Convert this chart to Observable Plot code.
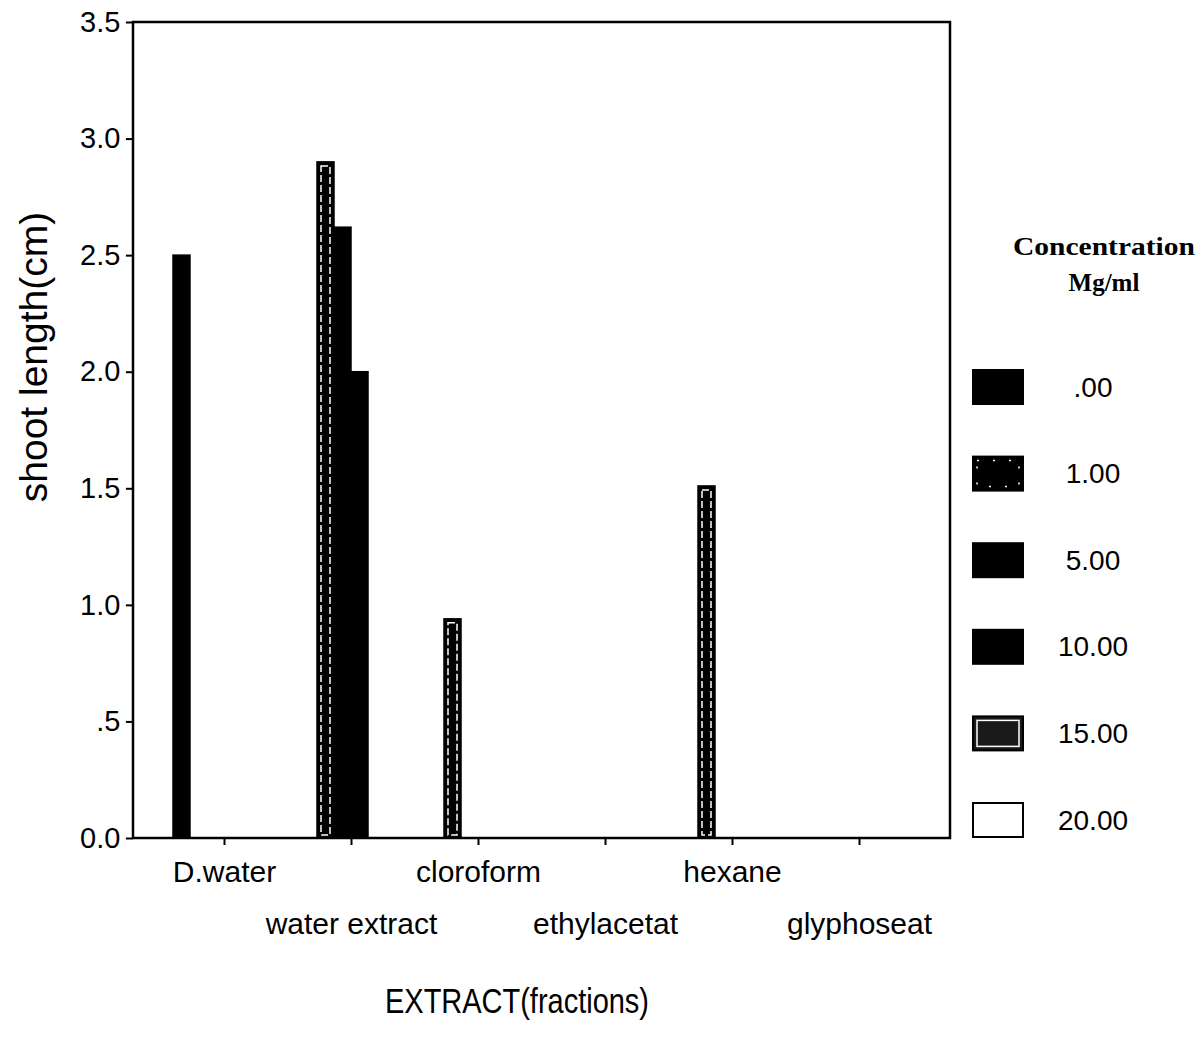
<!DOCTYPE html>
<html>
<head>
<meta charset="utf-8">
<script src="https://cdn.jsdelivr.net/npm/d3@7"></script>
<script src="https://cdn.jsdelivr.net/npm/@observablehq/plot@0.6"></script>
<style>
  html, body { margin: 0; padding: 0; background: white; }
  #chart { width: 1200px; height: 1043px; }
</style>
</head>
<body>
<div id="chart"></div>
<script>
// ---- data ----
const extracts = ["D.water", "water extract", "cloroform", "ethylacetat", "hexane", "glyphoseat"];
const concentrations = [".00", "1.00", "5.00", "10.00", "15.00", "20.00"];
const barExtract = ["D.water", "water extract", "water extract", "water extract", "cloroform", "hexane"];
const barConc    = [".00",     "1.00",          "5.00",          "10.00",         "1.00",      "1.00"];
const barValue   = [2.50,      2.90,            2.62,            2.00,            0.94,        1.51];
const yTicks = [0, 0.5, 1, 1.5, 2, 2.5, 3, 3.5];
const fillRange = ["black", "black", "black", "black", "#1a1a1a", "white"];

const rows = barValue.map((v, i) => ({extract: barExtract[i], conc: barConc[i], value: v}));

// ---- layout ----
const W = 1200, H = 1043;
const mL = 133, mR = 250, mT = 22, mB = 205;
const fxPadInner = 0.167, fxPadOuter = 0.3;
const fxBand = d3.scaleBand().domain(extracts).range([mL, W - mR])
  .paddingInner(fxPadInner).paddingOuter(fxPadOuter);
const yAxisShift = mL - fxBand(extracts[0]);

const font = "'Liberation Sans', Arial, Helvetica, sans-serif";
const fmt = d => d.toFixed(1).replace(/^0\.(?!0)/, ".");
const fxFmt = d => (extracts.indexOf(d) % 2 === 1 ? "\n" + d : d);

const plot = Plot.plot({
  width: W, height: H,
  marginLeft: mL, marginRight: mR, marginTop: mT, marginBottom: mB,
  style: {fontFamily: font, color: "black", background: "white", overflow: "visible"},
  fx: {domain: extracts, paddingInner: fxPadInner, paddingOuter: fxPadOuter, axis: null, label: null},
  x: {domain: concentrations, padding: 0, axis: null},
  y: {domain: [0, 3.5], axis: null},
  color: {domain: concentrations, range: fillRange},
  marks: [
    Plot.barY(rows, {fx: "extract", x: "conc", y: "value", fill: "conc", stroke: "black", strokeWidth: 1.5}),
    Plot.barY(rows.filter(d => d.conc === "1.00"), {
      fx: "extract", x: "conc", y: "value", fill: "none", stroke: "white",
      strokeWidth: 1.5, strokeDasharray: "7,3", insetLeft: 4, insetRight: 4, insetTop: 4, insetBottom: 3
    }),
    Plot.axisY(yTicks, {anchor: "left", facetAnchor: "left", tickSize: 7, tickPadding: 6, tickFormat: fmt,
      fontSize: 29, label: null, strokeWidth: 2, dx: yAxisShift}),
    Plot.axisFx({anchor: "bottom", tickSize: 7, tickPadding: 0, tickFormat: fxFmt,
      lineHeight: 1.72, fontSize: 30, label: null, strokeWidth: 2})
  ]
});

document.getElementById("chart").appendChild(plot);

// ---- frame, titles and legend ----
const svg = d3.select(plot);
svg.append("rect")
  .attr("x", mL).attr("y", mT)
  .attr("width", W - mL - mR).attr("height", H - mT - mB)
  .attr("fill", "none").attr("stroke", "black").attr("stroke-width", 2.5);

svg.append("text")
  .attr("transform", "translate(33,357) rotate(-90)")
  .attr("text-anchor", "middle").attr("dominant-baseline", "central")
  .attr("font-family", font).attr("font-size", 39).attr("fill", "black")
  .text("shoot length(cm)");

svg.append("text")
  .attr("x", 517).attr("y", 1000)
  .attr("text-anchor", "middle").attr("dominant-baseline", "central")
  .attr("font-family", font).attr("font-size", 35).attr("fill", "black")
  .attr("textLength", 264).attr("lengthAdjust", "spacingAndGlyphs")
  .text("EXTRACT(fractions)");

const serif = "'Liberation Serif', 'Times New Roman', serif";
svg.append("text")
  .attr("x", 1104).attr("y", 246)
  .attr("text-anchor", "middle").attr("dominant-baseline", "central")
  .attr("font-family", serif).attr("font-weight", "bold").attr("font-size", 25)
  .attr("textLength", 182).attr("lengthAdjust", "spacingAndGlyphs")
  .text("Concentration");
svg.append("text")
  .attr("x", 1104).attr("y", 282)
  .attr("text-anchor", "middle").attr("dominant-baseline", "central")
  .attr("font-family", serif).attr("font-weight", "bold").attr("font-size", 25)
  .text("Mg/ml");

const leg = svg.append("g");
concentrations.forEach((c, i) => {
  const cy = 387 + i * 86.6;
  const g = leg.append("g").attr("transform", `translate(973,${cy - 17})`);
  g.append("rect").attr("width", 50).attr("height", 34)
    .attr("fill", fillRange[i]).attr("stroke", "black").attr("stroke-width", 2);
  if (c === "1.00") {
    g.append("rect").attr("x", 4).attr("y", 4).attr("width", 42).attr("height", 26)
      .attr("fill", "none").attr("stroke", "white").attr("stroke-width", 1.5).attr("stroke-dasharray", "2,14");
  }
  if (c === "15.00") {
    g.append("rect").attr("x", 4).attr("y", 4).attr("width", 42).attr("height", 26)
      .attr("fill", "none").attr("stroke", "white").attr("stroke-width", 1.5);
  }
  leg.append("text")
    .attr("x", 1093).attr("y", cy)
    .attr("text-anchor", "middle").attr("dominant-baseline", "central")
    .attr("font-family", font).attr("font-size", 28).attr("fill", "black")
    .text(c);
});
</script>
</body>
</html>
